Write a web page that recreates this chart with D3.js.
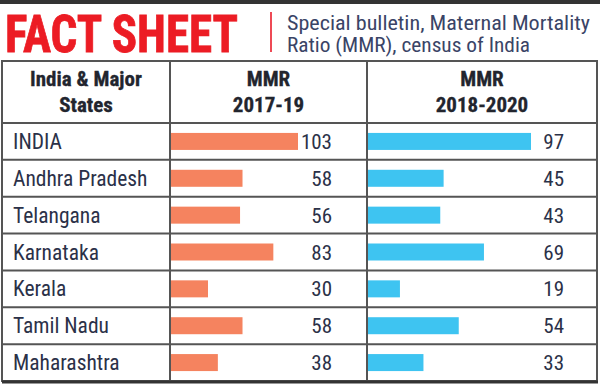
<!DOCTYPE html>
<html>
<head>
<meta charset="utf-8">
<script src="https://cdn.jsdelivr.net/npm/d3@7"></script>
<style>
  html, body { margin: 0; padding: 0; background: #fff; }
  svg { display: block; }
  text { font-family: "Liberation Sans Narrow", "Roboto Condensed", "Liberation Sans", Roboto, sans-serif; }
</style>
</head>
<body>
<script>
// ---- data ----
const states = ["INDIA", "Andhra Pradesh", "Telangana", "Karnataka", "Kerala", "Tamil Nadu", "Maharashtra"];
const mmr2017_19 = [103, 58, 56, 83, 30, 58, 38];
const mmr2018_20 = [97, 45, 43, 69, 19, 54, 33];
const headers = [["India & Major", "States"], ["MMR", "2017-19"], ["MMR", "2018-2020"]];
const title = "FACT SHEET";
const subtitle = ["Special bulletin, Maternal Mortality", "Ratio (MMR), census of India"];

const W = 600, H = 388;
const svg = d3.select("body").append("svg").attr("width", W).attr("height", H);

// top dark strip
svg.append("rect").attr("x", 0).attr("y", 0).attr("width", W).attr("height", 4).attr("fill", "#333");

// title
svg.append("text").attr("x", 5).attr("y", 52)
  .attr("font-size", 52).attr("font-weight", "bold").attr("fill", "#ec1c24")
  .attr("stroke", "#ec1c24").attr("stroke-width", 0.8)
  .attr("textLength", 233).attr("lengthAdjust", "spacingAndGlyphs")
  .text(title);
svg.append("line").attr("x1", 271).attr("x2", 271).attr("y1", 12).attr("y2", 52)
  .attr("stroke", "#ee4a55").attr("stroke-width", 2);
const subLen = [303, 243];
svg.selectAll("text.sub").data(subtitle).join("text").attr("class", "sub")
  .attr("x", 287).attr("y", (d, i) => 29.5 + i * 22.5)
  .attr("font-size", 19.5).attr("fill", "#3a4466")
  .attr("textLength", (d, i) => subLen[i]).attr("lengthAdjust", "spacingAndGlyphs")
  .text(d => d);

// table geometry
const tLeft = 2, tRight = 597, tTop = 61, headBottom = 123, tBottom = 381;
const colX = [tLeft, 170, 367, tRight];
const y = d3.scaleBand().domain(states).range([headBottom, tBottom]).padding(0);

const xA = d3.scaleLinear().domain([0, 103]).range([171, 298]);
const xB = d3.scaleLinear().domain([0, 97]).range([368, 531]);

const g = svg.append("g");

// bars
g.selectAll("rect.a").data(states).join("rect").attr("class", "a")
  .attr("x", xA(0)).attr("y", d => y(d) + y.bandwidth() / 2 - 8.5)
  .attr("width", (d, i) => xA(mmr2017_19[i]) - xA(0)).attr("height", 17)
  .attr("fill", "#f5835f");
g.selectAll("rect.b").data(states).join("rect").attr("class", "b")
  .attr("x", xB(0)).attr("y", d => y(d) + y.bandwidth() / 2 - 8.5)
  .attr("width", (d, i) => xB(mmr2018_20[i]) - xB(0)).attr("height", 17)
  .attr("fill", "#3ec4f1");

// labels
g.selectAll("text.st").data(states).join("text").attr("class", "st")
  .attr("x", 13).attr("y", d => y(d) + y.bandwidth() / 2 + 7.5)
  .attr("font-size", 21.5).attr("fill", "#2b3148").text(d => d);
g.selectAll("text.va").data(states).join("text").attr("class", "va")
  .attr("x", 332).attr("y", d => y(d) + y.bandwidth() / 2 + 7.5)
  .attr("text-anchor", "end").attr("font-size", 21).attr("fill", "#2b3148")
  .text((d, i) => mmr2017_19[i]);
g.selectAll("text.vb").data(states).join("text").attr("class", "vb")
  .attr("x", 564).attr("y", d => y(d) + y.bandwidth() / 2 + 7.5)
  .attr("text-anchor", "end").attr("font-size", 21).attr("fill", "#2b3148")
  .text((d, i) => mmr2018_20[i]);

// headers
headers.forEach((h, c) => {
  const cx = (colX[c] + colX[c + 1]) / 2;
  h.forEach((line, k) => {
    svg.append("text").attr("x", cx).attr("y", 86 + k * 26)
      .attr("text-anchor", "middle").attr("font-size", 21).attr("font-weight", "bold")
      .attr("fill", "#22252e").attr("stroke", "#22252e").attr("stroke-width", 0.3).text(line);
  });
});

// grid lines
const gridColor = "#555";
svg.selectAll("line.h").data(states.slice(1)).join("line").attr("class", "h")
  .attr("x1", tLeft).attr("x2", tRight).attr("y1", d => y(d)).attr("y2", d => y(d))
  .attr("stroke", gridColor).attr("stroke-width", 2);
svg.append("line").attr("x1", tLeft).attr("x2", tRight).attr("y1", headBottom).attr("y2", headBottom)
  .attr("stroke", gridColor).attr("stroke-width", 2);
svg.selectAll("line.v").data([colX[1], colX[2]]).join("line").attr("class", "v")
  .attr("x1", d => d).attr("x2", d => d).attr("y1", tTop).attr("y2", tBottom)
  .attr("stroke", gridColor).attr("stroke-width", 2);
// outer border
svg.append("rect").attr("x", tLeft).attr("y", tTop).attr("width", tRight - tLeft).attr("height", tBottom - tTop)
  .attr("fill", "none").attr("stroke", gridColor).attr("stroke-width", 2);
svg.append("line").attr("x1", tLeft).attr("x2", tRight + 1).attr("y1", tBottom + 1).attr("y2", tBottom + 1)
  .attr("stroke", "#333").attr("stroke-width", 3);
</script>
</body>
</html>
